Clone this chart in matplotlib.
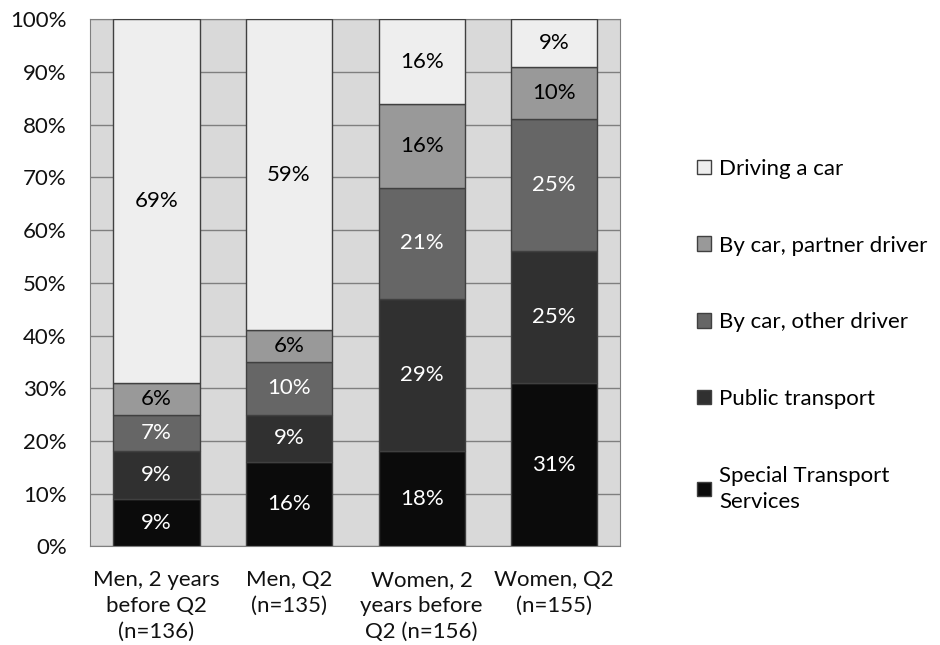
import matplotlib.pyplot as plt
import numpy as np

plt.rcParams['font.family'] = ['Lato', 'DejaVu Sans']

# categories and series (percent)
groups = ['Men, 2 years\nbefore Q2\n(n=136)', 'Men, Q2\n(n=135)',
          'Women, 2\nyears before\nQ2 (n=156)', 'Women, Q2\n(n=155)']
series_names = ['Special Transport\nServices', 'Public transport',
                'By car, other driver', 'By car, partner driver', 'Driving a car']
special = [9, 16, 18, 31]
public = [9, 9, 29, 25]
other_driver = [7, 10, 21, 25]
partner_driver = [6, 6, 16, 10]
driving = [69, 59, 16, 9]

colors = ['#0b0b0b', '#303030', '#666666', '#999999', '#eeeeee']
text_colors = ['white', 'white', 'white', 'black', 'black']

fig = plt.figure(figsize=(9.4, 6.45), dpi=100)
ax = fig.add_axes([0.096, 0.153, 0.564, 0.817])
ax.set_facecolor('#d9d9d9')

x = np.arange(len(groups))
bottom = np.zeros(len(groups))
all_series = [special, public, other_driver, partner_driver, driving]
for vals, name, c, tc in zip(all_series, series_names, colors, text_colors):
    vals = np.array(vals)
    ax.bar(x, vals, 0.65, bottom=bottom, color=c, edgecolor='#404040',
           linewidth=1.0, label=name, zorder=3)
    for xi, v, b in zip(x, vals, bottom):
        ax.text(xi, b + v / 2, f'{v}%', ha='center', va='center',
                color=tc, fontsize=16, zorder=4)
    bottom += vals

ax.set_xlim(-0.5, len(groups) - 0.5)
ax.set_ylim(0, 100)
ax.set_yticks(range(0, 101, 10))
ax.set_yticklabels([f'{t}%' for t in range(0, 101, 10)])
ax.set_xticks(x)
ax.set_xticklabels(groups, linespacing=1.38)
ax.yaxis.grid(True, color='#7f7f7f', linewidth=1.0, zorder=0)
ax.tick_params(length=0, labelsize=16, colors='#111111')
ax.tick_params(axis='y', pad=17)
ax.tick_params(axis='x', pad=17)
for s in ax.spines.values():
    s.set_color('#7f7f7f')

handles, labels = ax.get_legend_handles_labels()
leg = fig.legend(handles[::-1], labels[::-1], loc='center left',
                 bbox_to_anchor=(0.72, 0.48), frameon=False, fontsize=16,
                 handlelength=0.65, handleheight=0.65, handletextpad=0.35,
                 labelspacing=2.55)
for t in leg.get_texts():
    t.set_linespacing(1.4)

plt.savefig('out.png', dpi=100)
